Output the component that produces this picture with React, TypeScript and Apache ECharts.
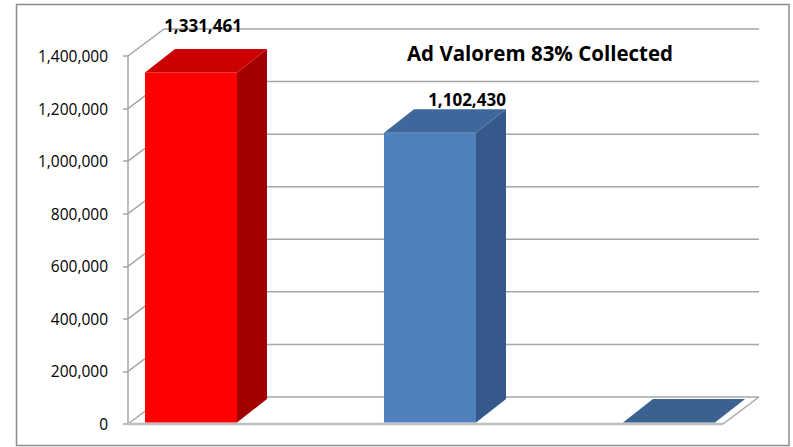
import React, { useEffect, useRef } from "react";
import * as echarts from "echarts";

const categories = ["Levied", "Collected", "Outstanding"];
const values = [1331461, 1102430, 0];
const yTicks = [0, 200000, 400000, 600000, 800000, 1000000, 1200000, 1400000];
const titleText = "Ad Valorem 83% Collected";

const FRONT = ["#FF0000", "#4F81BD", "#4F81BD"];
const TOP = ["#CC0000", "#3E689C", "#3A6190"];
const SIDE = ["#A30000", "#34598A", "#34598A"];
const LABEL_NUDGE = [
  [-18, -24],
  [7, -10],
  [0, -10],
];

const WALL_DX = 36;
const WALL_DY = -27;
const BAR_DX = 30;
const BAR_DY = -23.5;
const INSET_X = 2;
const INSET_Y = -1.5;
const GRID_COLOR = "#A6A6A6";
const FONT = "'Open Sans', 'Noto Sans', sans-serif";

const fmt = (v: number) => v.toLocaleString("en-US");

export default function App() {
  const ref = useRef<HTMLDivElement>(null);
  useEffect(() => {
    if (!ref.current) return;
    const chart = echarts.init(ref.current, undefined, { renderer: "svg" });

    const wallsRender = (params: any, api: any) => {
      const cs = params.coordSys;
      const tick = api.value(1);
      const y = api.coord([0, tick])[1];
      const x0 = cs.x;
      const x1 = cs.x + cs.width;
      const children: any[] = [
        {
          type: "polyline",
          shape: {
            points: [
              [x0, y],
              [x0 + WALL_DX, y + WALL_DY],
              [x1 + WALL_DX, y + WALL_DY],
            ],
          },
          style: { stroke: GRID_COLOR, lineWidth: 1.5, fill: "none" },
        },
      ];
      if (tick === 0) {
        children.push({
          type: "line",
          shape: { x1: x1, y1: y, x2: x1 + WALL_DX, y2: y + WALL_DY },
          style: { stroke: GRID_COLOR, lineWidth: 1.5 },
        });
        children.push({
          type: "line",
          shape: { x1: x0, y1: y, x2: x1, y2: y },
          style: { stroke: "#BFBFBF", lineWidth: 2.5 },
        });
      }
      return { type: "group", children };
    };

    const barsRender = (params: any, api: any) => {
      const i = params.dataIndex;
      const cat = api.value(0);
      const val = api.value(1);
      const [cx, yTop0] = api.coord([cat, val]);
      const yBot0 = api.coord([cat, 0])[1];
      const band = api.size([1, 0])[0];
      const w = band * 0.385;
      const xl = cx - w / 2 + INSET_X;
      const xr = cx + w / 2 + INSET_X;
      const yt = yTop0 + INSET_Y;
      const yb = yBot0 + INSET_Y;
      const children: any[] = [];
      if (yb - yt > 0.5) {
        children.push({
          type: "polygon",
          shape: {
            points: [
              [xr, yt],
              [xr + BAR_DX, yt + BAR_DY],
              [xr + BAR_DX, yb + BAR_DY],
              [xr, yb],
            ],
          },
          style: { fill: SIDE[i] },
        });
        children.push({
          type: "rect",
          shape: { x: xl, y: yt, width: xr - xl, height: yb - yt },
          style: { fill: FRONT[i] },
        });
      }
      children.push({
        type: "polygon",
        shape: {
          points: [
            [xl, yt],
            [xl + BAR_DX, yt + BAR_DY],
            [xr + BAR_DX, yt + BAR_DY],
            [xr, yt],
          ],
        },
        style: { fill: TOP[i] },
      });
      if (val > 0) {
        const nudge = LABEL_NUDGE[i];
        children.push({
          type: "text",
          x: (xl + xr) / 2 + BAR_DX + nudge[0],
          y: yt + BAR_DY + nudge[1],
          style: {
            text: fmt(val),
            align: "center",
            verticalAlign: "middle",
            font: `bold 17px ${FONT}`,
            fill: "#000",
          },
        });
      }
      return { type: "group", children };
    };

    chart.setOption({
      animation: false,
      backgroundColor: "#fff",
      grid: [
        { left: 128, right: 70, top: 56, bottom: 23 },
        { left: 69.5, width: 717, top: 56, bottom: 23 },
      ],
      xAxis: [
        { type: "category", gridIndex: 0, data: categories, show: false },
        { type: "category", gridIndex: 1, data: categories, show: false },
      ],
      yAxis: [
        {
          type: "value",
          gridIndex: 0,
          min: 0,
          max: 1400000,
          interval: 200000,
          axisLine: { show: true, lineStyle: { color: GRID_COLOR, width: 1.5 } },
          axisTick: { show: true, length: 5, lineStyle: { color: GRID_COLOR, width: 1.5 } },
          splitLine: { show: false },
          axisLabel: {
            margin: 20,
            color: "#000",
            fontFamily: FONT,
            fontSize: 15.5,
            formatter: (v: number) => fmt(v),
          },
        },
        {
          type: "value",
          gridIndex: 1,
          min: 0,
          max: 1400000,
          interval: 200000,
          show: false,
        },
      ],
      graphic: [
        {
          type: "rect",
          shape: { x: 16.5, y: 4.5, width: 772.5, height: 441 },
          style: { fill: "none", stroke: "#8C8C8C", lineWidth: 1.5 },
          z: 100,
        },
        {
          type: "text",
          x: 540,
          y: 53,
          style: {
            text: titleText,
            align: "center",
            verticalAlign: "middle",
            font: `bold 20.5px ${FONT}`,
            fill: "#000",
          },
          z: 100,
        },
      ],
      series: [
        {
          type: "custom",
          xAxisIndex: 0,
          yAxisIndex: 0,
          renderItem: wallsRender,
          data: yTicks.map((t) => [0, t]),
          z: 1,
          silent: true,
        },
        {
          type: "custom",
          xAxisIndex: 1,
          yAxisIndex: 1,
          renderItem: barsRender,
          data: values.map((v, i) => [i, v]),
          z: 2,
          silent: true,
        },
      ],
    });
    return () => chart.dispose();
  }, []);
  return (
    <div
      ref={ref}
      style={{ position: "fixed", left: 0, top: 0, width: 793, height: 447 }}
    />
  );
}
